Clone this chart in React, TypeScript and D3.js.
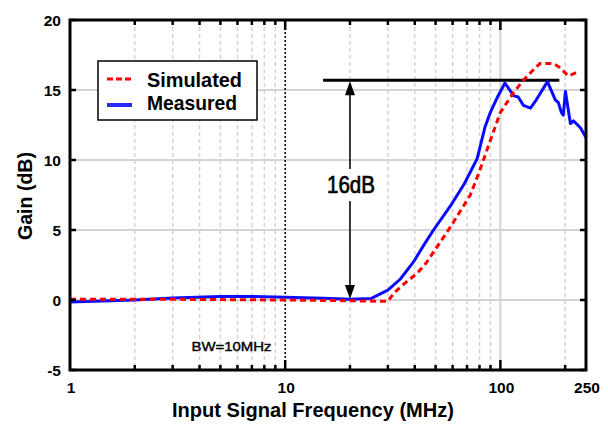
import React from 'react';
import * as d3 from 'd3';

// Measured gain (MHz, dB)
const measured: [number, number][] = [
  [1, -0.15], [2, 0.0], [3, 0.15], [5, 0.25], [7, 0.25], [10, 0.2], [15, 0.12],
  [20, 0.05], [25, 0.1], [30, 0.7], [34.3, 1.5], [39.4, 2.7], [44, 3.9], [48.9, 5.0],
  [58.5, 6.7], [68, 8.3], [78, 10.1], [85, 12.4], [89.8, 13.4], [97, 14.5], [105, 15.5],
  [115, 14.6], [121, 14.5], [128, 13.9], [138, 13.7], [145.5, 14.2], [165.5, 15.6],
  [180, 14.3], [186, 14.1], [192, 13.4], [196, 13.2], [200.6, 14.9], [211.6, 12.6],
  [218.5, 12.8], [235.5, 12.3], [250, 11.6],
];

// Simulated gain (MHz, dB)
const simulated: [number, number][] = [
  [1, 0.05], [3, 0.05], [10, 0.0], [20, -0.05], [30, -0.1], [32, 0.5], [36, 1.2],
  [41, 1.9], [45, 2.6], [50.8, 3.8], [58.5, 5.2], [72.5, 7.5], [80, 9.2], [87.9, 11.0],
  [100, 13.4], [114.9, 14.8], [128, 15.7], [145.5, 16.6], [153, 16.9], [176, 16.9],
  [189, 16.6], [207, 16.0], [230, 16.3],
];

const yTicks = [-5, 0, 5, 10, 15, 20];
const xLabels = [1, 10, 100, 250];
const majorX = [10, 100];
const minorX = [2, 3, 4, 5, 6, 7, 8, 9, 20, 30, 40, 50, 60, 70, 80, 90, 200];
const bwFreq = 10;
const gainLine = { from: 15, to: 188, gain: 15.7 };
const arrowFreq = 20;

const font = '"Liberation Sans", Arial, sans-serif';

export default function App() {
  const left = 70, right = 586, top = 20, bottom = 370;
  const x = d3.scaleLog().domain([1, 250]).range([left, right]);
  const y = d3.scaleLinear().domain([-5, 20]).range([bottom, top]);

  const line = d3.line<[number, number]>()
    .x(d => x(d[0]))
    .y(d => y(d[1]))
    .curve(d3.curveLinear);

  const ax = x(arrowFreq);
  const ay0 = y(gainLine.gain);
  const ay1 = y(0);

  return (
    <svg width={608} height={426} style={{ position: 'absolute', left: 0, top: 0, background: '#fff' }}
      fontFamily={font}>
      <rect x={0} y={0} width={608} height={426} fill="#fff" />

      {/* grid */}
      {[0, 5, 10, 15].map(v => (
        <line key={'h' + v} x1={left} x2={right} y1={y(v)} y2={y(v)} stroke="#d4d4d4" strokeWidth={2} />
      ))}
      {minorX.map(v => (
        <line key={'v' + v} x1={x(v)} x2={x(v)} y1={top} y2={bottom} stroke="#d4d4d4"
          strokeWidth={1.5} strokeDasharray="4,3" />
      ))}
      <line x1={x(100)} x2={x(100)} y1={top} y2={bottom} stroke="#d4d4d4" strokeWidth={2} />

      {/* BW marker */}
      <line x1={x(bwFreq)} x2={x(bwFreq)} y1={top} y2={bottom} stroke="#000" strokeWidth={1.5} strokeDasharray="2,2" />
      <text x={191.5} y={351} fontSize={13.5} textLength={80} lengthAdjust="spacingAndGlyphs"
        stroke="#000" strokeWidth={0.4}>BW=10MHz</text>

      {/* 16dB annotation */}
      <line x1={x(gainLine.from)} x2={x(gainLine.to)} y1={ay0} y2={ay0} stroke="#000" strokeWidth={3} />
      <line x1={ax} x2={ax} y1={ay0 + 4} y2={ay1 - 4} stroke="#000" strokeWidth={1.5} />
      <path d={`M${ax},${ay0 + 1} L${ax - 5},${ay0 + 15} L${ax + 5},${ay0 + 15} Z`} fill="#000" />
      <path d={`M${ax},${ay1 - 1} L${ax - 5},${ay1 - 15} L${ax + 5},${ay1 - 15} Z`} fill="#000" />
      <rect x={ax - 22} y={169} width={44} height={32} fill="#fff" />
      <text x={327} y={193} fontSize={24} textLength={48} lengthAdjust="spacingAndGlyphs"
        stroke="#000" strokeWidth={0.7}>16dB</text>

      {/* curves */}
      <path d={line(measured) ?? ''} fill="none" stroke="#0a0aff" strokeWidth={3} strokeLinejoin="round" />
      <path d={line(simulated) ?? ''} fill="none" stroke="#ff0000" strokeWidth={3} strokeDasharray="6,4" />

      {/* legend */}
      <rect x={98} y={61} width={159} height={59} fill="#fff" stroke="#000" strokeWidth={1.5} />
      <line x1={107} x2={132} y1={79} y2={79} stroke="#ff0000" strokeWidth={3} strokeDasharray="6,3" />
      <line x1={107} x2={132} y1={105} y2={105} stroke="#2a2aff" strokeWidth={4} />
      <text x={147} y={86.5} fontSize={21} fontWeight="bold" textLength={95} lengthAdjust="spacingAndGlyphs">Simulated</text>
      <text x={147} y={110} fontSize={21} fontWeight="bold" textLength={90} lengthAdjust="spacingAndGlyphs">Measured</text>

      {/* frame ticks */}
      {minorX.map(v => (
        <g key={'t' + v}>
          <line x1={x(v)} x2={x(v)} y1={bottom} y2={bottom - 5} stroke="#000" strokeWidth={2.5} />
          <line x1={x(v)} x2={x(v)} y1={top} y2={top + 5} stroke="#000" strokeWidth={2.5} />
        </g>
      ))}
      {majorX.map(v => (
        <g key={'T' + v}>
          <line x1={x(v)} x2={x(v)} y1={bottom} y2={bottom - 10} stroke="#000" strokeWidth={2.5} />
          <line x1={x(v)} x2={x(v)} y1={top} y2={top + 10} stroke="#000" strokeWidth={2.5} />
        </g>
      ))}
      {yTicks.map(v => (
        <g key={'y' + v}>
          <line x1={left} x2={left + 6} y1={y(v)} y2={y(v)} stroke="#000" strokeWidth={2.5} />
          <line x1={right} x2={right - 6} y1={y(v)} y2={y(v)} stroke="#000" strokeWidth={2.5} />
        </g>
      ))}
      <rect x={left} y={top} width={right - left} height={bottom - top} fill="none" stroke="#000" strokeWidth={3} />

      {/* tick labels */}
      {yTicks.map(v => (
        <text key={'yl' + v} x={61} y={y(v) + 5.5} fontSize={15.5} fontWeight="bold" textAnchor="end">{v}</text>
      ))}
      {xLabels.map(v => (
        <text key={'xl' + v} x={x(v) + 1} y={393} fontSize={15.5} fontWeight="bold" textAnchor="middle">{v}</text>
      ))}

      {/* axis titles */}
      <text x={172} y={417} fontSize={21} fontWeight="bold" textLength={282} lengthAdjust="spacingAndGlyphs">
        Input Signal Frequency (MHz)
      </text>
      <text transform="translate(32,240) rotate(-90)" x={0} y={0} fontSize={21} fontWeight="bold"
        textLength={88} lengthAdjust="spacingAndGlyphs">Gain (dB)</text>
    </svg>
  );
}
